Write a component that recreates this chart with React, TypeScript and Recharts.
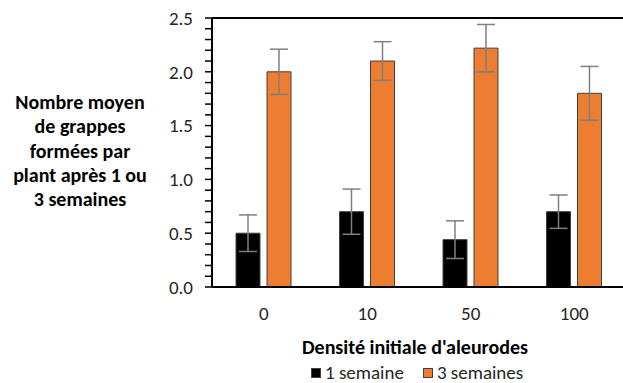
import { Bar, BarChart, ErrorBar, ReferenceLine, XAxis, YAxis } from "recharts";

const categories = ["0", "10", "50", "100"];
const week1 = [0.5, 0.7, 0.44, 0.7];
const week3 = [2.0, 2.1, 2.22, 1.8];
const week1Err = [0.17, 0.21, 0.175, 0.155];
const week3Err = [0.21, 0.18, 0.22, 0.25];
const yTicks = [
  0, 0.1, 0.2, 0.3, 0.4, 0.5, 0.6, 0.7, 0.8, 0.9, 1.0, 1.1, 1.2, 1.3, 1.4, 1.5, 1.6, 1.7,
  1.8, 1.9, 2.0, 2.1, 2.2, 2.3, 2.4, 2.5,
];
const yLabelLines = ["Nombre moyen", "de grappes", "formées par", "plant après 1 ou", "3 semaines"];

const data = categories.map((name, i) => ({
  name,
  week1: week1[i],
  week3: week3[i],
  week1Err: week1Err[i],
  week3Err: week3Err[i],
}));

const FONT = "Carlito, Calibri, Lato, sans-serif";
const ORANGE = "#ED7D31";

const isMajor = (v: number) => Math.abs(v * 2 - Math.round(v * 2)) < 1e-6;

export default function App() {
  return (
    <div
      style={{
        position: "absolute",
        left: 0,
        top: 0,
        width: 623,
        height: 383,
        overflow: "hidden",
        background: "#fff",
        fontFamily: FONT,
      }}
    >
      <BarChart
        width={640}
        height={383}
        data={data}
        margin={{ top: 18, right: 14, left: 0, bottom: 0 }}
        barSize={24}
        barGap={7}
      >
        <XAxis
          dataKey="name"
          height={96}
          axisLine={{ stroke: "#000", strokeWidth: 2 }}
          tickLine={false}
          tickSize={6}
          tickMargin={14}
          tick={{ fill: "#262626", fontSize: 19, fontFamily: FONT }}
          label={() => (
            <text
              x={415}
              y={354}
              textAnchor="middle"
              fill="#000"
              fontSize={20}
              fontWeight={700}
              fontFamily={FONT}
            >
              Densité initiale d'aleurodes
            </text>
          )}
        />
        <YAxis
          width={212}
          domain={[0, 2.5]}
          ticks={yTicks}
          interval={0}
          axisLine={{ stroke: "#000", strokeWidth: 2 }}
          tickLine={{ stroke: "#000", strokeWidth: 1.5 }}
          tickSize={7}
          tickMargin={12}
          tick={{ fill: "#262626", fontSize: 19, fontFamily: FONT }}
          tickFormatter={(v: number) => (isMajor(v) ? v.toFixed(1) : "")}
        />
        <ReferenceLine y={2.5} stroke="#000" strokeWidth={2} ifOverflow="visible" />
        <Bar dataKey="week1" fill="#000" stroke="#404040" strokeWidth={1} isAnimationActive={false}>
          <ErrorBar dataKey="week1Err" width={9} stroke="#7f7f7f" strokeWidth={1.5} direction="y" />
        </Bar>
        <Bar dataKey="week3" fill={ORANGE} stroke="#404040" strokeWidth={1} isAnimationActive={false}>
          <ErrorBar dataKey="week3Err" width={9} stroke="#7f7f7f" strokeWidth={1.5} direction="y" />
        </Bar>
      </BarChart>

      <div
        style={{
          position: "absolute",
          left: 0,
          top: 90,
          width: 160,
          textAlign: "center",
          fontWeight: 700,
          fontSize: 20,
          lineHeight: "24.3px",
          color: "#000",
        }}
      >
        {yLabelLines.map((line) => (
          <div key={line}>{line}</div>
        ))}
      </div>

      <div
        style={{
          position: "absolute",
          left: 311,
          top: 365,
          display: "flex",
          alignItems: "center",
          fontSize: 19,
          color: "#262626",
          lineHeight: "15px",
          whiteSpace: "nowrap",
        }}
      >
        <span style={{ width: 8, height: 8, background: "#000", border: "1px solid #404040", marginRight: 4 }} />
        <span style={{ marginRight: 19 }}>1 semaine</span>
        <span style={{ width: 8, height: 8, background: ORANGE, border: "1px solid #404040", marginRight: 4 }} />
        <span>3 semaines</span>
      </div>
    </div>
  );
}
